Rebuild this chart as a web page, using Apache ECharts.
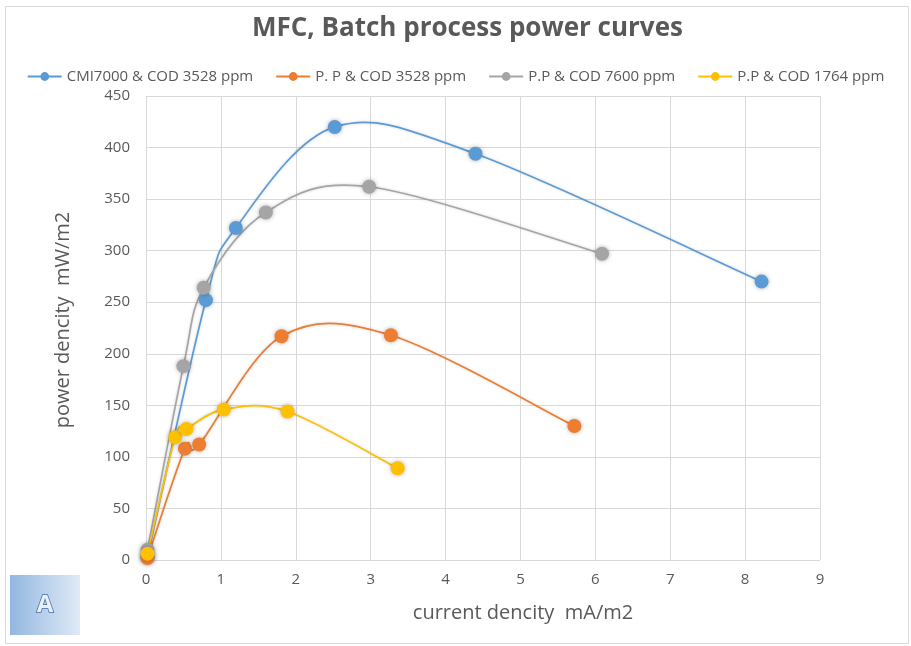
<!DOCTYPE html>
<html>
<head>
<meta charset="utf-8">
<script src="https://cdn.jsdelivr.net/npm/echarts@6/dist/echarts.min.js"></script>
<style>html,body{margin:0;padding:0;background:#fff;}#c{width:911px;height:646px;}</style>
</head>
<body>
<div id="c"></div>
<script>
const seriesNames = ['CMI7000 & COD 3528 ppm', 'P. P & COD 3528 ppm', 'P.P & COD 7600 ppm', 'P.P & COD 1764 ppm'];
const cmiX = [0.02, 0.80, 1.20, 2.52, 4.40, 8.22];
const cmiY = [3, 252, 322, 420, 394, 270];
const pp3528X = [0.02, 0.52, 0.71, 1.81, 3.27, 5.72];
const pp3528Y = [2, 108, 112, 217, 218, 130];
const pp7600X = [0.02, 0.50, 0.77, 1.60, 2.98, 6.09];
const pp7600Y = [10, 188, 264, 337, 362, 297];
const pp1764X = [0.02, 0.39, 0.54, 1.04, 1.89, 3.36];
const pp1764Y = [6, 119, 127, 146, 144, 89];
const colors = ['#5B9BD5', '#ED7D31', '#A5A5A5', '#FFC000'];
const xTicks = [0, 9, 1];
const yTicks = [0, 450, 50];
const titleText = 'MFC, Batch process power curves';
const xName = 'current dencity  mA/m2';
const yName = 'power dencity  mW/m2';

const pairs = (xs, ys) => xs.map((x, i) => [x, ys[i]]);
const allData = [pairs(cmiX, cmiY), pairs(pp3528X, pp3528Y), pairs(pp7600X, pp7600Y), pairs(pp1764X, pp1764Y)];
const font = '"Open Sans", "Noto Sans", sans-serif';

// Excel-like smoothed curve (Catmull-Rom to Bezier) computed in pixel space via the axis scales
function smoothPath(api, data) {
  const p = data.map(d => api.coord(d));
  const n = p.length;
  let s = 'M' + p[0][0] + ' ' + p[0][1];
  for (let i = 0; i < n - 1; i++) {
    const p0 = p[Math.max(i - 1, 0)], p1 = p[i], p2 = p[i + 1], p3 = p[Math.min(i + 2, n - 1)];
    const c1 = [p1[0] + (p2[0] - p0[0]) / 6, p1[1] + (p2[1] - p0[1]) / 6];
    const c2 = [p2[0] - (p3[0] - p1[0]) / 6, p2[1] - (p3[1] - p1[1]) / 6];
    s += ' C' + c1[0] + ' ' + c1[1] + ' ' + c2[0] + ' ' + c2[1] + ' ' + p2[0] + ' ' + p2[1];
  }
  return s;
}

const chart = echarts.init(document.getElementById('c'));
const curveSeries = allData.map((data, i) => ({
  type: 'custom', silent: true, z: 2,
  data: [data[0]],
  renderItem: (params, api) => ({
    type: 'path',
    shape: { pathData: smoothPath(api, data) },
    style: { fill: 'none', stroke: colors[i], lineWidth: 1.7, shadowBlur: 3, shadowColor: 'rgba(0,0,0,0.18)' }
  })
}));
const markerSeries = seriesNames.map((name, i) => ({
  name, type: 'line', data: allData[i],
  symbol: 'circle', symbolSize: 14,
  lineStyle: { width: 1.7, color: colors[i], opacity: 0 },
  itemStyle: { color: colors[i], shadowBlur: 4, shadowColor: 'rgba(0,0,0,0.3)' },
  z: 3 + i
}));

chart.setOption({
  animation: false,
  color: colors,
  title: {
    text: titleText,
    left: 247, top: 11,
    textStyle: { fontFamily: font, fontSize: 26, fontWeight: 'bold', color: '#595959' }
  },
  legend: {
    top: 64, left: 'center', itemGap: 22, itemWidth: 34, itemHeight: 11,
    lineStyle: { opacity: 1, width: 2 },
    textStyle: { fontFamily: font, fontSize: 15, color: '#595959' },
    data: seriesNames
  },
  grid: { left: 146, right: 91, top: 96, bottom: 86 },
  xAxis: {
    type: 'value', min: xTicks[0], max: xTicks[1], interval: xTicks[2],
    axisLine: { show: false }, axisTick: { show: false },
    axisLabel: { fontFamily: font, fontSize: 15, color: '#595959', margin: 12 },
    splitLine: { lineStyle: { color: '#d9d9d9' } }
  },
  yAxis: {
    type: 'value', min: yTicks[0], max: yTicks[1], interval: yTicks[2],
    axisLine: { show: false }, axisTick: { show: false },
    axisLabel: { fontFamily: font, fontSize: 15, color: '#595959', margin: 16 },
    splitLine: { lineStyle: { color: '#d9d9d9' } }
  },
  series: curveSeries.concat(markerSeries),
  graphic: [
    { type: 'rect', shape: { x: 5.5, y: 6.5, width: 903, height: 637 }, style: { fill: 'none', stroke: '#d9d9d9', lineWidth: 1 }, silent: true },
    { type: 'text', x: 523, y: 613, style: { text: xName, fontFamily: font, fontSize: 20, fill: '#595959', align: 'center', verticalAlign: 'middle' } },
    { type: 'text', x: 63, y: 320, rotation: Math.PI / 2, style: { text: yName, fontFamily: font, fontSize: 20, fill: '#595959', align: 'center', verticalAlign: 'middle' } },
    { type: 'rect', shape: { x: 10, y: 575, width: 70, height: 60 },
      style: { fill: new echarts.graphic.LinearGradient(0, 0, 1, 0, [{ offset: 0, color: '#93b7e1' }, { offset: 1, color: '#dfeaf6' }]) } },
    { type: 'text', x: 45, y: 605,
      style: { text: 'A', fontFamily: font, fontSize: 24, fontWeight: 'bold', fill: '#e8f0fa', stroke: '#4a6fa8', lineWidth: 1.5, align: 'center', verticalAlign: 'middle' } }
  ]
});
</script>
</body>
</html>
